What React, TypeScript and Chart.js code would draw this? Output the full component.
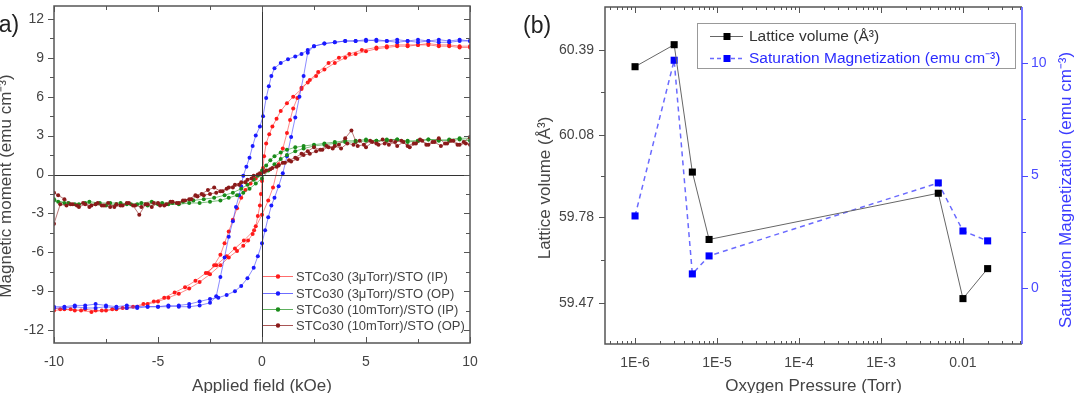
import React, { useEffect, useRef } from 'react';
import { Chart, registerables } from 'chart.js';

Chart.register(...registerables);

const FONT = '"Liberation Sans", Arial, Helvetica, sans-serif';
const TEXT = '#444444';
const AXIS = '#333333';

// ---------- Panel (a): hysteresis loops ----------
const fieldTicks = [-10, -5, 0, 5, 10];
const fieldMinorTicks = [-7.5, -2.5, 2.5, 7.5];
const momentTicks = [-12, -9, -6, -3, 0, 3, 6, 9, 12];
const momentMinorTicks = [-10.5, -7.5, -4.5, -1.5, 1.5, 4.5, 7.5, 10.5];

// STCo30 (3 µTorr) in-plane
const ip3CenterField = [-10, -9.5, -9, -8.5, -8, -7.5, -7, -6.5, -6, -5.5, -5, -4.5, -4, -3.5, -3, -2.5, -2, -1.6, -1.2, -0.9, -0.67, -0.45, -0.3, -0.2, -0.1, -0.05, 0, 0.05, 0.1, 0.2, 0.35, 0.5, 0.7, 0.9, 1.2, 1.5, 1.9, 2.3, 2.7, 3.2, 3.7, 4.2, 4.8, 5.5, 6, 6.5, 7, 7.5, 8, 8.5, 9, 9.5, 10];
const ip3CenterMoment = [-10.5, -10.4, -10.5, -10.4, -10.5, -10.5, -10.4, -10.3, -10.2, -10.0, -9.8, -9.5, -9.2, -8.8, -8.3, -7.7, -7.0, -6.4, -5.9, -5.5, -5.1, -4.6, -4.0, -3.2, -2.4, -1.5, -0.5, 0.5, 1.4, 2.4, 3.1, 3.7, 4.3, 4.9, 5.5, 6.0, 6.6, 7.3, 7.9, 8.6, 9.0, 9.3, 9.6, 9.8, 9.9, 10.0, 10.0, 10.0, 10.1, 10.0, 10.0, 9.9, 9.9];
const ip3OuterField = [10, 9.5, 9, 8.5, 8, 7.5, 7, 6.5, 6, 5.5, 5, 4.5, 4, 3.5, 3, 2.6, 2.2, 1.9, 1.7, 1.5, 1.35, 1.2, 1.0, 0.8, 0.53, 0.3, 0, -0.38, -0.87, -1.3, -1.7, -2.2, -2.7, -3.2, -3.7, -4.2, -4.7, -5.2, -5.7, -6.2, -6.7, -7.2, -7.7, -8.2, -8.7, -9.2, -9.7, -10];
const ip3OuterMoment = [9.8, 9.8, 9.9, 9.9, 10.0, 10.0, 9.9, 9.9, 9.8, 9.7, 9.5, 9.3, 9.0, 8.6, 8.1, 7.6, 7.1, 6.7, 5.9, 5.1, 4.2, 3.2, 2.0, 0.8, -1.0, -2.0, -3.1, -4.3, -5.1, -5.7, -6.3, -7.0, -7.6, -8.2, -8.7, -9.1, -9.5, -9.8, -10.0, -10.2, -10.3, -10.4, -10.5, -10.6, -10.5, -10.4, -10.4, -10.3];
const ip3ReturnField = [-2.6, -2.3, -2.0, -1.8, -1.6, -1.4, -1.2, -1.0, -0.8, -0.55, -0.3, -0.1];
const ip3ReturnMoment = [-7.6, -7.0, -6.2, -5.3, -4.4, -3.5, -2.6, -1.8, -1.2, -0.7, -0.3, 0.0];

// STCo30 (3 µTorr) out-of-plane
const op3DownField = [10, 9.5, 9, 8.5, 8, 7.5, 7, 6.5, 6, 5.5, 5, 4.5, 4, 3.5, 3, 2.5, 2.2, 1.9, 1.6, 1.25, 0.9, 0.6, 0.45, 0.33, 0.2, 0.05, -0.1, -0.3, -0.45, -0.6, -0.75, -0.9, -1.0, -1.1, -1.25, -1.4, -1.6, -1.8, -2.0, -2.2, -2.5, -3, -3.5, -4, -4.5, -5, -5.5, -6, -6.5, -7, -7.5, -8, -8.5, -9, -9.5, -10];
const op3DownMoment = [10.3, 10.4, 10.3, 10.4, 10.3, 10.2, 10.3, 10.4, 10.3, 10.4, 10.3, 10.3, 10.3, 10.2, 10.1, 9.9, 9.6, 9.3, 9.1, 8.9, 8.6, 8.2, 7.6, 6.8, 5.9, 4.5, 3.7, 3.0, 2.2, 1.3, 0.6, -0.1, -0.9, -1.6, -2.5, -3.6, -4.8, -6.4, -7.9, -9.4, -9.9, -10.1, -10.2, -10.2, -10.1, -10.2, -10.2, -10.2, -10.1, -10.2, -10.1, -10.0, -10.1, -10.1, -10.2, -10.2];
const op3UpField = [-10, -9.5, -9, -8.5, -8, -7.5, -7, -6.5, -6, -5.5, -5, -4.5, -4, -3.5, -3, -2.5, -2.1, -1.7, -1.3, -1.0, -0.7, -0.4, -0.2, 0, 0.15, 0.3, 0.45, 0.6, 0.8, 1.0, 1.2, 1.4, 1.6, 1.8, 2.0, 2.2, 2.5, 3, 3.5, 4, 4.5, 5, 5.5, 6, 6.5, 7, 7.5, 8, 8.5, 9, 9.5, 10];
const op3UpMoment = [-10.3, -10.3, -10.2, -10.3, -10.3, -10.2, -10.3, -10.3, -10.3, -10.2, -10.2, -10.2, -10.1, -10.0, -9.8, -9.6, -9.5, -9.3, -9.0, -8.6, -8.0, -7.2, -6.3, -5.3, -4.3, -3.3, -2.4, -1.8, -0.9, 0.1, 1.4, 2.9, 4.4, 6.0, 7.6, 9.4, 9.9, 10.1, 10.2, 10.3, 10.3, 10.4, 10.3, 10.3, 10.2, 10.3, 10.4, 10.3, 10.2, 10.2, 10.3, 10.3];

// STCo30 (10 mTorr) in-plane
const ip10DownField = [10, 9.5, 9, 8.5, 8, 7.5, 7, 6.5, 6, 5.5, 5, 4.5, 4, 3.5, 3, 2.5, 2, 1.6, 1.2, 0.9, 0.6, 0.4, 0.2, 0, -0.2, -0.4, -0.7, -1.0, -1.4, -1.8, -2.3, -2.8, -3.3, -3.8, -4.3, -4.8, -5.3, -5.8, -6.3, -6.8, -7.3, -7.8, -8.3, -8.8, -9.3, -9.8, -10];
const ip10DownMoment = [2.6, 2.7, 2.6, 2.7, 2.7, 2.6, 2.6, 2.7, 2.7, 2.6, 2.7, 2.6, 2.6, 2.5, 2.4, 2.3, 2.2, 2.1, 1.9, 1.7, 1.4, 1.1, 0.7, 0.3, -0.1, -0.4, -0.8, -1.1, -1.4, -1.6, -1.8, -1.9, -2.0, -2.1, -2.2, -2.2, -2.1, -2.2, -2.3, -2.2, -2.2, -2.2, -2.1, -2.3, -2.2, -2.1, -2.0];
const ip10UpField = [-10, -9.5, -9, -8.5, -8, -7.5, -7, -6.5, -6, -5.5, -5, -4.5, -4, -3.5, -3, -2.5, -2, -1.6, -1.2, -0.9, -0.6, -0.3, 0, 0.3, 0.6, 0.9, 1.2, 1.6, 2.0, 2.5, 3, 3.5, 4, 4.5, 5, 5.5, 6, 6.5, 7, 7.5, 8, 8.5, 9, 9.5, 10];
const ip10UpMoment = [-1.9, -2.2, -2.3, -2.2, -2.3, -2.4, -2.3, -2.3, -2.3, -2.4, -2.3, -2.3, -2.3, -2.2, -2.2, -2.1, -2.0, -1.8, -1.6, -1.4, -1.1, -0.7, -0.3, 0.3, 0.8, 1.2, 1.5, 1.8, 2.0, 2.2, 2.3, 2.4, 2.5, 2.5, 2.6, 2.6, 2.6, 2.7, 2.5, 2.6, 2.7, 2.6, 2.7, 2.8, 2.8];

// STCo30 (10 mTorr) out-of-plane
const op10DownField = [10, 9.7, 9.4, 9.1, 8.8, 8.5, 8.2, 7.9, 7.6, 7.3, 7.0, 6.7, 6.4, 6.1, 5.8, 5.5, 5.2, 4.9, 4.6, 4.3, 4.0, 3.7, 3.4, 3.1, 2.8, 2.5, 2.2, 1.9, 1.6, 1.3, 1.0, 0.7, 0.4, 0.1, -0.2, -0.5, -0.8, -1.1, -1.4, -1.7, -2.0, -2.3, -2.6, -2.9, -3.2, -3.5, -3.8, -4.1, -4.4, -4.7, -5.0, -5.3, -5.6, -5.9, -6.2, -6.5, -6.8, -7.1, -7.4, -7.7, -8.0, -8.3, -8.6, -8.9, -9.2, -9.5, -9.8, -10];
const op10DownMoment = [2.9, 2.5, 2.3, 2.6, 2.4, 2.8, 2.5, 2.3, 2.7, 2.4, 2.2, 2.6, 2.5, 2.3, 2.7, 2.4, 2.6, 2.3, 2.2, 3.4, 2.8, 2.3, 2.0, 2.2, 1.9, 2.1, 1.8, 1.6, 1.3, 1.1, 0.9, 0.6, 0.4, 0.2, 0.0, -0.3, -0.6, -0.8, -1.0, -1.1, -1.3, -1.0, -1.2, -1.5, -1.6, -1.9, -2.0, -2.2, -2.1, -2.4, -2.2, -2.5, -2.3, -3.1, -2.4, -2.2, -2.4, -2.5, -2.2, -2.4, -2.3, -2.5, -2.2, -2.4, -2.3, -1.9, -1.6, -1.4];
const op10UpField = [-10, -9.7, -9.4, -9.1, -8.8, -8.5, -8.2, -7.9, -7.6, -7.3, -7.0, -6.7, -6.4, -6.1, -5.8, -5.5, -5.2, -4.9, -4.6, -4.3, -4.0, -3.7, -3.4, -3.1, -2.8, -2.5, -2.2, -1.9, -1.6, -1.3, -1.0, -0.7, -0.4, -0.1, 0.2, 0.5, 0.8, 1.1, 1.4, 1.7, 2.0, 2.3, 2.6, 2.9, 3.2, 3.5, 3.8, 4.1, 4.4, 4.7, 5.0, 5.3, 5.6, 5.9, 6.2, 6.5, 6.8, 7.1, 7.4, 7.7, 8.0, 8.3, 8.6, 8.9, 9.2, 9.5, 9.8, 10];
const op10UpMoment = [-3.8, -2.3, -2.4, -2.3, -2.5, -2.3, -2.4, -2.2, -2.4, -2.5, -2.3, -2.4, -2.2, -2.4, -2.5, -2.3, -2.2, -2.4, -2.3, -2.1, -2.2, -2.0, -1.9, -1.7, -1.6, -1.5, -1.4, -1.3, -1.0, -0.8, -0.6, -0.4, -0.1, 0.1, 0.3, 0.5, 0.7, 0.9, 1.0, 1.2, 1.5, 1.6, 1.8, 1.9, 2.1, 2.2, 2.0, 2.4, 2.3, 2.6, 2.1, 2.5, 2.3, 2.4, 2.6, 2.2, 2.5, 2.1, 2.4, 2.6, 2.3, 2.5, 2.2, 2.4, 2.6, 2.3, 2.4, 2.3];

const loopNames = [
  'STCo30 (3\u03bcTorr)/STO (IP)',
  'STCo30 (3\u03bcTorr)/STO (OP)',
  'STCo30 (10mTorr)/STO (IP)',
  'STCo30 (10mTorr)/STO (OP)',
];
const loopColors = ['#ff1a1a', '#1a1aff', '#1a8c1a', '#8b1a1a'];
const loopLineColors = ['rgba(255,60,60,0.75)', 'rgba(60,60,255,0.75)', 'rgba(40,150,40,0.75)', 'rgba(140,30,30,0.75)'];

// ---------- Panel (b): lattice volume & saturation magnetization ----------
const oxygenPressure = [1e-6, 3e-6, 5e-6, 8e-6, 5e-3, 1e-2, 2e-2];
const latticeVolume = [60.328, 60.408, 59.945, 59.70, 59.868, 59.485, 59.594];
const saturationMag = [3.2, 10.13, 0.62, 1.42, 4.67, 2.53, 2.09];
const pressureTicks = [1e-6, 1e-5, 1e-4, 1e-3, 1e-2];
const pressureTickLabels = ['1E-6', '1E-5', '1E-4', '1E-3', '0.01'];
const latticeTicks = [59.47, 59.78, 60.08, 60.39];
const latticeMinorTicks = [59.625, 59.93, 60.235];
const magTicks = [0, 5, 10];
const magMinorTicks = [2.5, 7.5];

const toPoints = (xs: number[], ys: number[]) => xs.map((x, i) => ({ x, y: ys[i] }));

// keep the plot area exactly where the layout padding puts it
const noEdgePadding = (s: any) => {
  s.paddingTop = 0;
  s.paddingBottom = 0;
  s.paddingLeft = 0;
  s.paddingRight = 0;
};

function drawTickSet(ctx: CanvasRenderingContext2D, pos: number[], fixed: number, len: number, vertical: boolean) {
  ctx.beginPath();
  for (const p of pos) {
    const q = Math.round(p) + 0.5;
    if (vertical) {
      ctx.moveTo(q, fixed);
      ctx.lineTo(q, fixed + len);
    } else {
      ctx.moveTo(fixed, q);
      ctx.lineTo(fixed + len, q);
    }
  }
  ctx.stroke();
}

const loopPanelPlugin = {
  id: 'loopPanel',
  afterDatasetsDraw(chart: any) {
    const { ctx, chartArea, scales } = chart;
    const { left, right, top, bottom } = chartArea;
    const xs = scales.x;
    const ys = scales.y;
    ctx.save();
    ctx.strokeStyle = AXIS;
    ctx.lineWidth = 1;
    // zero lines
    const x0 = Math.round(xs.getPixelForValue(0)) + 0.5;
    const y0 = Math.round(ys.getPixelForValue(0)) + 0.5;
    ctx.beginPath();
    ctx.moveTo(x0, top);
    ctx.lineTo(x0, bottom);
    ctx.moveTo(left, y0);
    ctx.lineTo(right, y0);
    ctx.stroke();
    // frame
    ctx.strokeStyle = '#555';
    ctx.lineWidth = 1.5;
    ctx.strokeRect(left, top, right - left, bottom - top);
    ctx.lineWidth = 1;
    // ticks
    const xMaj = fieldTicks.map((v) => xs.getPixelForValue(v));
    const xMin = fieldMinorTicks.map((v) => xs.getPixelForValue(v));
    drawTickSet(ctx, xMaj, bottom, -6, true);
    drawTickSet(ctx, xMin, bottom, -4, true);
    drawTickSet(ctx, xMaj, top, 6, true);
    drawTickSet(ctx, xMin, top, 4, true);
    const yMaj = momentTicks.map((v) => ys.getPixelForValue(v));
    const yMin = momentMinorTicks.map((v) => ys.getPixelForValue(v));
    drawTickSet(ctx, yMaj, left, -6, false);
    drawTickSet(ctx, yMin, left, -4, false);
    drawTickSet(ctx, yMaj, right, -6, false);
    drawTickSet(ctx, yMin, right, -4, false);

    // legend
    const rows = [276, 293, 309, 325];
    ctx.font = `13px ${FONT}`;
    ctx.textBaseline = 'middle';
    ctx.textAlign = 'left';
    rows.forEach((ry, i) => {
      ctx.strokeStyle = loopLineColors[i];
      ctx.lineWidth = 1;
      ctx.beginPath();
      ctx.moveTo(263, ry + 0.5);
      ctx.lineTo(293, ry + 0.5);
      ctx.stroke();
      ctx.fillStyle = loopColors[i];
      ctx.beginPath();
      ctx.arc(278, ry + 0.5, 2.2, 0, Math.PI * 2);
      ctx.fill();
      ctx.fillStyle = TEXT;
      ctx.fillText(loopNames[i], 296, ry + 1);
    });

    // titles
    ctx.fillStyle = '#222';
    ctx.font = `23px ${FONT}`;
    ctx.textAlign = 'left';
    ctx.fillText('(a)', -9, 26);
    ctx.fillStyle = TEXT;
    ctx.font = `17px ${FONT}`;
    ctx.textAlign = 'center';
    ctx.fillText('Applied field (kOe)', (left + right) / 2, 386);
    ctx.save();
    ctx.translate(6, 186);
    ctx.rotate(-Math.PI / 2);
    ctx.fillText('Magnetic moment (emu cm\u207b\u00b3)', 0, 0);
    ctx.restore();
    ctx.restore();
  },
};

const pressurePanelPlugin = {
  id: 'pressurePanel',
  afterDatasetsDraw(chart: any) {
    const { ctx, chartArea, scales } = chart;
    const { left, right, top, bottom } = chartArea;
    const xs = scales.x;
    const yl = scales.y;
    const yr = scales.y1;
    ctx.save();
    ctx.lineWidth = 1.5;
    ctx.strokeStyle = '#555';
    ctx.beginPath();
    ctx.moveTo(right, top);
    ctx.lineTo(left, top);
    ctx.lineTo(left, bottom);
    ctx.lineTo(right, bottom);
    ctx.stroke();
    ctx.strokeStyle = '#4a4aff';
    ctx.beginPath();
    ctx.moveTo(right, top);
    ctx.lineTo(right, bottom);
    ctx.stroke();
    ctx.lineWidth = 1;

    // log ticks
    ctx.strokeStyle = '#555';
    const decades = [1e-7, 1e-6, 1e-5, 1e-4, 1e-3, 1e-2];
    const minorVals: number[] = [];
    decades.forEach((d) => {
      [2, 3, 4, 5, 6, 7, 8, 9].forEach((k) => {
        const v = k * d;
        if (v > xs.min && v < xs.max) minorVals.push(v);
      });
    });
    const xMaj = pressureTicks.map((v) => xs.getPixelForValue(v));
    const xMin = minorVals.map((v) => xs.getPixelForValue(v));
    drawTickSet(ctx, xMaj, bottom, -6, true);
    drawTickSet(ctx, xMin, bottom, -3, true);
    drawTickSet(ctx, xMaj, top, 6, true);
    drawTickSet(ctx, xMin, top, 3, true);
    // left ticks
    drawTickSet(ctx, latticeTicks.map((v) => yl.getPixelForValue(v)), left, -6, false);
    drawTickSet(ctx, latticeMinorTicks.map((v) => yl.getPixelForValue(v)), left, -4, false);
    // right ticks
    ctx.strokeStyle = '#4a4aff';
    drawTickSet(ctx, magTicks.map((v) => yr.getPixelForValue(v)), right, 6, false);
    drawTickSet(ctx, magMinorTicks.map((v) => yr.getPixelForValue(v)), right, 4, false);

    // legend box
    const bx = 187;
    const by = 23;
    ctx.strokeStyle = '#999';
    ctx.lineWidth = 1;
    ctx.strokeRect(bx + 0.5, by + 0.5, 318, 45);
    ctx.font = `15.5px ${FONT}`;
    ctx.textBaseline = 'middle';
    ctx.textAlign = 'left';
    // row 1
    ctx.strokeStyle = '#666';
    ctx.beginPath();
    ctx.moveTo(200, 36.5);
    ctx.lineTo(233, 36.5);
    ctx.stroke();
    ctx.fillStyle = '#000';
    ctx.fillRect(213.5, 33, 7, 7);
    ctx.fillStyle = '#333';
    ctx.fillText('Lattice volume (\u00c5\u00b3)', 239, 37);
    // row 2
    ctx.strokeStyle = '#6a6aff';
    ctx.lineWidth = 1.5;
    ctx.setLineDash([4, 3]);
    ctx.beginPath();
    ctx.moveTo(200, 58.5);
    ctx.lineTo(233, 58.5);
    ctx.stroke();
    ctx.setLineDash([]);
    ctx.fillStyle = '#0000ff';
    ctx.fillRect(213.5, 55, 7, 7);
    ctx.fillStyle = '#2b2bff';
    ctx.fillText('Saturation Magnetization (emu cm\u207b\u00b3)', 239, 59);

    // titles
    ctx.fillStyle = '#222';
    ctx.font = `23px ${FONT}`;
    ctx.fillText('(b)', 13, 27);
    ctx.fillStyle = TEXT;
    ctx.font = `17px ${FONT}`;
    ctx.textAlign = 'center';
    ctx.fillText('Oxygen Pressure (Torr)', (left + right) / 2, 386);
    ctx.save();
    ctx.translate(35, 188);
    ctx.rotate(-Math.PI / 2);
    ctx.fillText('Lattice volume (\u00c5\u00b3)', 0, 0);
    ctx.restore();
    ctx.save();
    ctx.fillStyle = '#3a3aff';
    ctx.translate(556, 190);
    ctx.rotate(-Math.PI / 2);
    ctx.fillText('Saturation Magnetization (emu cm\u207b\u00b3)', 0, 0);
    ctx.restore();
    ctx.restore();
  },
};

function loopDataset(xs: number[], ys: number[], idx: number) {
  return {
    label: loopNames[idx],
    data: toPoints(xs, ys),
    showLine: true,
    borderColor: loopLineColors[idx],
    borderWidth: 0.8,
    backgroundColor: loopColors[idx],
    pointRadius: 2,
    pointBorderWidth: 0,
    pointBackgroundColor: loopColors[idx],
  };
}

export default function App() {
  const loopRef = useRef<HTMLCanvasElement>(null);
  const pressRef = useRef<HTMLCanvasElement>(null);

  useEffect(() => {
    Chart.defaults.font.family = FONT;
    // datasets listed top-most first
    const loopDatasets = [
      loopDataset(op10DownField, op10DownMoment, 3),
      loopDataset(op10UpField, op10UpMoment, 3),
      loopDataset(ip10DownField, ip10DownMoment, 2),
      loopDataset(ip10UpField, ip10UpMoment, 2),
      loopDataset(op3DownField, op3DownMoment, 1),
      loopDataset(op3UpField, op3UpMoment, 1),
      loopDataset(ip3CenterField, ip3CenterMoment, 0),
      loopDataset(ip3OuterField, ip3OuterMoment, 0),
      loopDataset(ip3ReturnField, ip3ReturnMoment, 0),
    ];
    const tickFont = { family: FONT, size: 14 };

    const loopChart = new Chart(loopRef.current as HTMLCanvasElement, {
      type: 'scatter',
      data: { datasets: loopDatasets as any },
      options: {
        animation: false,
        responsive: false,
        maintainAspectRatio: false,
        layout: { padding: { left: 0, right: 40, top: 6, bottom: 0 } },
        plugins: { legend: { display: false }, tooltip: { enabled: false } },
        scales: {
          x: {
            type: 'linear',
            min: -10,
            max: 10,
            afterBuildTicks: (s: any) => { s.ticks = fieldTicks.map((v) => ({ value: v })); },
            afterFit: (s: any) => { s.height = 50; noEdgePadding(s); },
            grid: { display: false, drawTicks: false },
            border: { display: false },
            ticks: { padding: 11, color: TEXT, font: tickFont, maxRotation: 0, callback: (v: any) => String(v) },
          },
          y: {
            type: 'linear',
            min: -13,
            max: 13,
            afterBuildTicks: (s: any) => { s.ticks = momentTicks.map((v) => ({ value: v })); },
            afterFit: (s: any) => { s.width = 54; noEdgePadding(s); },
            grid: { display: false, drawTicks: false },
            border: { display: false },
            ticks: { padding: 10, color: TEXT, font: tickFont, callback: (v: any) => String(v) },
          },
        },
      } as any,
      plugins: [loopPanelPlugin],
    });

    const pressChart = new Chart(pressRef.current as HTMLCanvasElement, {
      type: 'scatter',
      data: {
        datasets: [
          {
            label: 'Lattice volume (\u00c5\u00b3)',
            data: toPoints(oxygenPressure, latticeVolume),
            yAxisID: 'y',
            showLine: true,
            borderColor: '#666666',
            borderWidth: 1,
            pointStyle: 'rect',
            pointRadius: 5,
            pointBorderWidth: 0,
            pointBackgroundColor: '#000000',
            backgroundColor: '#000000',
          },
          {
            label: 'Saturation Magnetization (emu cm\u207b\u00b3)',
            data: toPoints(oxygenPressure, saturationMag),
            yAxisID: 'y1',
            showLine: true,
            borderColor: '#6a6aff',
            borderWidth: 1.5,
            borderDash: [5, 4],
            pointStyle: 'rect',
            pointRadius: 5,
            pointBorderWidth: 0,
            pointBackgroundColor: '#0000ff',
            backgroundColor: '#0000ff',
          },
        ] as any,
      },
      options: {
        animation: false,
        responsive: false,
        maintainAspectRatio: false,
        layout: { padding: { left: 0, right: 0, top: 7, bottom: 0 } },
        plugins: { legend: { display: false }, tooltip: { enabled: false } },
        scales: {
          x: {
            type: 'logarithmic',
            min: 4.3e-7,
            max: 0.0525,
            afterBuildTicks: (s: any) => { s.ticks = pressureTicks.map((v) => ({ value: v })); },
            afterFit: (s: any) => { s.height = 49; noEdgePadding(s); },
            grid: { display: false, drawTicks: false },
            border: { display: false },
            ticks: {
              padding: 11,
              color: TEXT,
              font: tickFont,
              maxRotation: 0,
              autoSkip: false,
              callback: (_v: any, i: number) => pressureTickLabels[i],
            },
          },
          y: {
            type: 'linear',
            position: 'left',
            min: 59.32,
            max: 60.545,
            afterBuildTicks: (s: any) => { s.ticks = latticeTicks.map((v) => ({ value: v })); },
            afterFit: (s: any) => { s.width = 95; noEdgePadding(s); },
            grid: { display: false, drawTicks: false },
            border: { display: false },
            ticks: { padding: 11, color: TEXT, font: tickFont, callback: (v: any) => Number(v).toFixed(2) },
          },
          y1: {
            type: 'linear',
            position: 'right',
            min: -2.5,
            max: 12.5,
            afterBuildTicks: (s: any) => { s.ticks = magTicks.map((v) => ({ value: v })); },
            afterFit: (s: any) => { s.width = 70; noEdgePadding(s); },
            grid: { display: false, drawTicks: false },
            border: { display: false },
            ticks: { padding: 9, color: '#4a4aff', font: tickFont, callback: (v: any) => String(v) },
          },
        },
      } as any,
      plugins: [pressurePanelPlugin],
    });

    return () => {
      loopChart.destroy();
      pressChart.destroy();
    };
  }, []);

  return (
    <div style={{ position: 'absolute', left: 0, top: 0, width: 1092, height: 393, background: '#fff', overflow: 'hidden' }}>
      <canvas ref={loopRef} width={510} height={393} style={{ position: 'absolute', left: 0, top: 0, width: 510, height: 393 }} />
      <canvas ref={pressRef} width={582} height={393} style={{ position: 'absolute', left: 510, top: 0, width: 582, height: 393 }} />
    </div>
  );
}
